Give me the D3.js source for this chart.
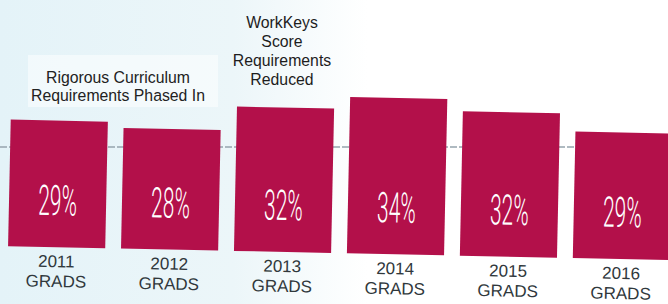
<!DOCTYPE html>
<html>
<head>
<meta charset="utf-8">
<script src="https://cdn.jsdelivr.net/npm/d3@7"></script>
<style>
  body { margin: 0; background: #fff; }
  svg { display: block; }
</style>
</head>
<body>
<div class="chart"></div>
<script>
var svgWidth = 668;
var svgHeight = 304;

// data
var years = ["2011", "2012", "2013", "2014", "2015", "2016"];
var values = [29, 28, 32, 34, 32, 29];
var subLabel = "GRADS";
var noteLeft = ["Rigorous Curriculum", "Requirements Phased In"];
var noteMid = ["WorkKeys", "Score", "Requirements", "Reduced"];

var baseY = 253;

var svg = d3.select(".chart")
  .append("svg")
  .attr("width", svgWidth)
  .attr("height", svgHeight);

// scanned paper look: pale cyan on the left fading to white
var grad = svg.append("defs").append("linearGradient")
  .attr("id", "bg")
  .attr("x1", "0%").attr("x2", "100%").attr("y1", "0%").attr("y2", "0%");
grad.append("stop").attr("offset", "0%").attr("stop-color", "#e4f3f8");
grad.append("stop").attr("offset", "35%").attr("stop-color", "#ecf6f9");
grad.append("stop").attr("offset", "55%").attr("stop-color", "#ffffff");
grad.append("stop").attr("offset", "100%").attr("stop-color", "#ffffff");

svg.append("rect")
  .attr("width", svgWidth)
  .attr("height", svgHeight)
  .attr("fill", "url(#bg)");

// white panel behind the left note
svg.append("rect")
  .attr("x", 28).attr("y", 55)
  .attr("width", 190).attr("height", 52)
  .attr("fill", "#ffffff")
  .attr("opacity", 0.5);

// horizontal rule behind the bars
svg.append("line")
  .attr("x1", 0).attr("x2", svgWidth)
  .attr("y1", 147).attr("y2", 147)
  .attr("stroke", "#95a4ad")
  .attr("stroke-width", 1.6)
  .attr("stroke-dasharray", "7,2");

var xScale = d3.scaleBand()
  .domain(years)
  .range([8, 670])
  .paddingInner(0.14)
  .paddingOuter(0);

var yScale = d3.scaleLinear()
  .domain([7.7, 34])
  .range([baseY, 96.7]);

// the scan is tilted a little
var chartGroup = svg.append("g")
  .attr("transform", "rotate(1.2, 334, " + baseY + ")");

chartGroup.selectAll("rect.bar")
  .data(values)
  .enter()
  .append("rect")
  .attr("class", "bar")
  .attr("x", (d, i) => xScale(years[i]))
  .attr("y", d => yScale(d))
  .attr("width", xScale.bandwidth())
  .attr("height", d => baseY - yScale(d))
  .attr("fill", "#b3104a");

// percent labels, thin condensed look
chartGroup.selectAll("text.pct")
  .data(values)
  .enter()
  .append("text")
  .attr("class", "pct")
  .attr("transform", (d, i) => `translate(${xScale(years[i]) + xScale.bandwidth() / 2}, ${baseY - 32}) scale(0.5, 1)`)
  .attr("text-anchor", "middle")
  .attr("font-family", "Roboto, sans-serif")
  .attr("font-weight", 300)
  .attr("font-size", "42px")
  .attr("fill", "#ffffff")
  .text(d => d + "%");

var yearLabels = chartGroup.selectAll("text.year")
  .data(years)
  .enter()
  .append("text")
  .attr("class", "year")
  .attr("x", d => xScale(d) + xScale.bandwidth() / 2)
  .attr("text-anchor", "middle")
  .attr("font-family", "'Liberation Sans', Arial, sans-serif")
  .attr("font-size", "17px")
  .attr("fill", "#30383c");

yearLabels.append("tspan")
  .attr("x", d => xScale(d) + xScale.bandwidth() / 2)
  .attr("y", baseY + 20)
  .text(d => d);

yearLabels.append("tspan")
  .attr("x", d => xScale(d) + xScale.bandwidth() / 2)
  .attr("y", baseY + 40)
  .text(subLabel);

// notes above the bars
svg.append("text")
  .attr("text-anchor", "middle")
  .attr("font-family", "'Liberation Sans', Arial, sans-serif")
  .attr("font-size", "17px")
  .attr("fill", "#222")
  .attr("transform", "translate(118, 0) scale(0.93, 1)")
  .selectAll("tspan")
  .data(noteLeft)
  .enter()
  .append("tspan")
  .attr("x", 0)
  .attr("y", (d, i) => 83 + i * 18)
  .text(d => d);

svg.append("text")
  .attr("text-anchor", "middle")
  .attr("font-family", "'Liberation Sans', Arial, sans-serif")
  .attr("font-size", "17px")
  .attr("fill", "#1d1d1d")
  .attr("transform", "translate(282, 0) scale(0.93, 1)")
  .selectAll("tspan")
  .data(noteMid)
  .enter()
  .append("tspan")
  .attr("x", 0)
  .attr("y", (d, i) => 28 + i * 19)
  .text(d => d);
</script>
</body>
</html>
